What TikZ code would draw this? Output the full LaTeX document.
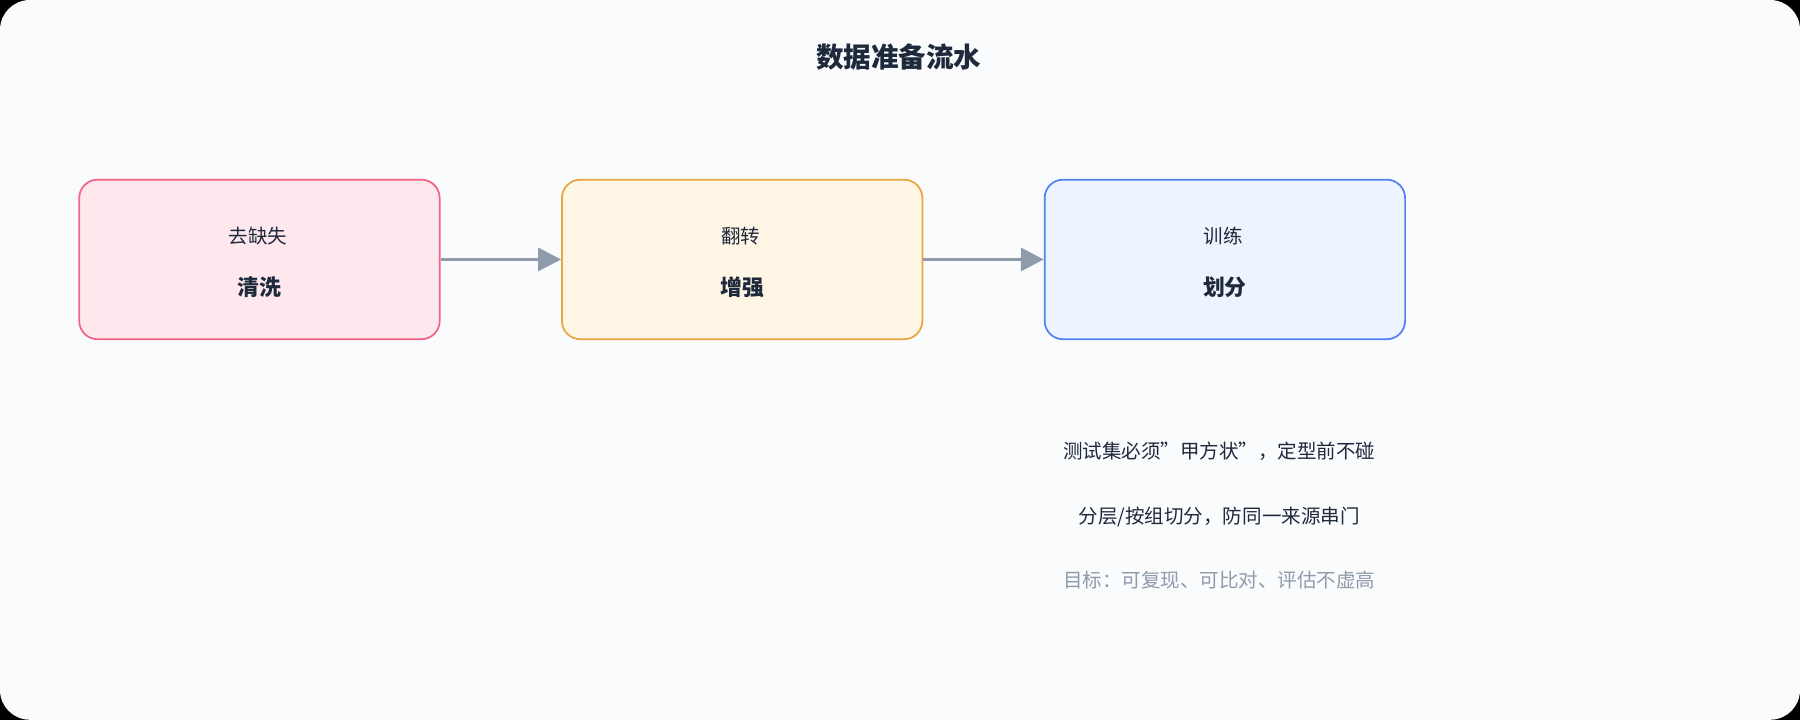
\documentclass[tikz,border=0pt]{standalone}
\usepackage{fontspec}
\setmainfont{Noto Sans CJK SC}
\usepackage{tikz}
\usetikzlibrary{arrows.meta,positioning}
\definecolor{mybg}{RGB}{249,251,253}
\definecolor{myink}{RGB}{30,41,59}
\definecolor{mygray}{RGB}{143,155,171}
\definecolor{mypinkfill}{RGB}{255,231,238}
\definecolor{mypinkline}{RGB}{244,98,134}
\definecolor{myorangefill}{RGB}{255,245,228}
\definecolor{myorangeline}{RGB}{232,165,62}
\definecolor{mybluefill}{RGB}{238,244,255}
\definecolor{myblueline}{RGB}{80,130,240}
\tikzset{
  stage/.style={draw,line width=1.5pt,rounded corners=16pt,minimum width=314pt,minimum height=139pt,inner sep=0pt},
  flow/.style={draw=mygray,line width=3pt,-{Triangle[length=20pt,width=20pt]}},
  note/.style={font=\fontsize{17pt}{20pt}\selectfont,text=myink}
}
\begin{document}
\begin{tikzpicture}[x=1pt,y=-1pt]
\useasboundingbox (0,0) rectangle (1568,627);
\fill[black] (0,0) rectangle (1568,627);
\fill[mybg,rounded corners=26pt] (0,0) rectangle (1568,627);
\node[font=\fontsize{24pt}{28pt}\selectfont\bfseries,text=myink] (title) at (783,50) {数据准备流水};
% stages
\node[stage,draw=mypinkline,fill=mypinkfill] (clean) at (226,226) {};
\node[stage,draw=myorangeline,fill=myorangefill,right=105pt of clean] (aug) {};
\node[stage,draw=myblueline,fill=mybluefill,right=105pt of aug] (split) {};
\foreach \n/\t/\s in {clean/清洗/去缺失\,/\,异常\,/\,修失衡,aug/增强/翻转\,/\,裁剪\,/\,加噪,split/划分/训练\,/\,验证\,/\,测试}{
  \node[font=\fontsize{19pt}{22pt}\selectfont\bfseries,text=myink] at ([yshift=-24pt]\n.center) {\t};
  \node[note] at ([yshift=20pt]\n.center) {\s};
}
\draw[flow] (clean) -- (aug);
\draw[flow] (aug) -- (split);
% notes
\node[note] (n1) at (1062,393) {测试集必须"甲方状"，定型前不碰};
\node[note] (n2) at (1062,450) {分层/按组切分，防同一来源串门};
\node[note,text=mygray] (n3) at (1062,505) {目标：可复现、可比对、评估不虚高};
\end{tikzpicture}
\end{document}
